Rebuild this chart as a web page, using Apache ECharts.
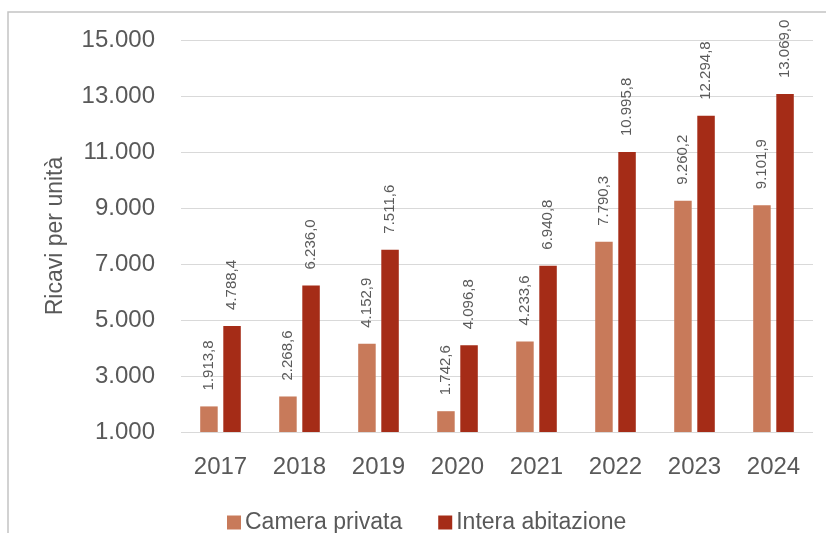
<!DOCTYPE html>
<html>
<head>
<meta charset="utf-8">
<script src="https://cdn.jsdelivr.net/npm/echarts@6/dist/echarts.min.js"></script>
<style>
  html, body { margin: 0; padding: 0; background: #fff; }
  #chart { width: 826px; height: 533px; }
</style>
</head>
<body>
<div id="chart"></div>
<script>
// Revenue per unit by year, private room vs whole home
const years = ['2017', '2018', '2019', '2020', '2021', '2022', '2023', '2024'];
const cameraPrivata = [1913.8, 2268.6, 4152.9, 1742.6, 4233.6, 7790.3, 9260.2, 9101.9];
const interaAbitazione = [4788.4, 6236.0, 7511.6, 4096.8, 6940.8, 10995.8, 12294.8, 13069.0];
const seriesNames = ['Camera privata', 'Intera abitazione'];
const axisTitle = 'Ricavi per unità';

const FONT = '"Liberation Sans", Arial, sans-serif';

// Italian number format: thousands with '.', decimals with ','
function itNumber(v, decimals) {
  const parts = v.toFixed(decimals).split('.');
  const intPart = parts[0].replace(/\B(?=(\d{3})+(?!\d))/g, '.');
  return parts.length > 1 ? intPart + ',' + parts[1] : intPart;
}

const labelStyle = {
  show: true,
  position: 'top',
  rotate: 90,
  align: 'left',
  verticalAlign: 'middle',
  distance: 16,
  fontFamily: FONT,
  fontSize: 15,
  color: '#5a5a5a',
  formatter: p => itNumber(p.value, 1)
};

const chart = echarts.init(document.getElementById('chart'), null, { renderer: 'canvas' });
chart.setOption({
  backgroundColor: '#ffffff',
  animation: false,
  textStyle: { fontFamily: FONT },
  graphic: [
    {
      type: 'polyline',
      shape: { points: [[8, 540], [8, 12], [830, 12]] },
      style: { stroke: '#c4c4c4', lineWidth: 1.5, fill: null },
      silent: true
    }
  ],
  grid: { left: 181, right: 13, top: 40, bottom: 101 },
  legend: {
    data: seriesNames,
    left: 222,
    top: 506,
    itemWidth: 14,
    itemHeight: 14,
    itemGap: 36,
    icon: 'rect',
    textStyle: { fontFamily: FONT, fontSize: 23, color: '#595959', padding: [0, 0, 0, -1] }
  },
  xAxis: {
    type: 'category',
    data: years,
    axisTick: { show: false },
    axisLine: { show: false },
    axisLabel: { fontFamily: FONT, fontSize: 24, color: '#595959', margin: 23 }
  },
  yAxis: {
    type: 'value',
    min: 1000,
    max: 15000,
    interval: 2000,
    name: axisTitle,
    nameLocation: 'middle',
    nameGap: 114,
    nameTextStyle: { fontFamily: FONT, fontSize: 23, color: '#595959' },
    axisLine: { show: false },
    axisTick: { show: false },
    axisLabel: {
      fontFamily: FONT, fontSize: 24, color: '#595959', margin: 26,
      formatter: v => itNumber(v, 0)
    },
    splitLine: { lineStyle: { color: '#d9d9d9', width: 1.2 } }
  },
  series: [
    {
      name: seriesNames[0],
      type: 'bar',
      data: cameraPrivata,
      barWidth: 17.5,
      barGap: '32%',
      itemStyle: { color: '#c87a5a' },
      label: labelStyle
    },
    {
      name: seriesNames[1],
      type: 'bar',
      data: interaAbitazione,
      barWidth: 17.5,
      barGap: '32%',
      itemStyle: { color: '#a52c17' },
      label: labelStyle
    }
  ]
});
</script>
</body>
</html>
